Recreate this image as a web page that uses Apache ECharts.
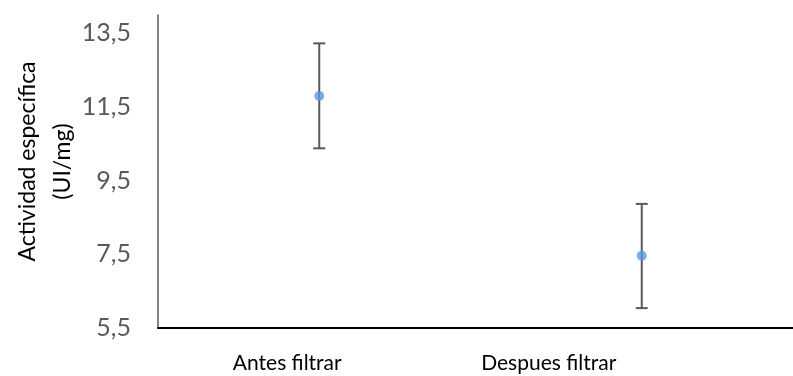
<!DOCTYPE html>
<html><head><meta charset="utf-8">
<script src="https://cdn.jsdelivr.net/npm/echarts@6/dist/echarts.min.js"></script>
<style>html,body{margin:0;padding:0;background:#fff}#c{width:793px;height:376px}</style>
</head><body><div id="c"></div>
<script>
var categories = ['Antes filtrar', 'Despues filtrar'];
var means = [11.8, 7.46];
var errLow = [10.38, 6.04];
var errHigh = [13.23, 8.87];
var yMin = 5.5, yMax = 14, yLabelStep = 2;

var chart = echarts.init(document.getElementById('c'));
var font = 'Lato, "Open Sans", sans-serif';
var labelStyle = {color: '#000', fontSize: 21, fontFamily: font};
chart.setOption({
  animation: false,
  grid: {left: 158, right: -10, top: 15, bottom: 48, outerBoundsMode: 'none', containLabel: false},
  xAxis: {
    type: 'category', data: categories,
    axisLine: {lineStyle: {color: '#000', width: 2}},
    axisTick: {show: false},
    axisLabel: {
      color: '#000', fontSize: 21, fontFamily: font, margin: 25,
      formatter: function (v, i) { return '{l' + i + '|' + v + '}'; },
      rich: {
        l0: Object.assign({padding: [0, 64, 0, 0]}, labelStyle),
        l1: Object.assign({padding: [0, 186, 0, 0]}, labelStyle)
      }
    }
  },
  yAxis: {
    type: 'value', min: yMin, max: yMax, interval: 0.5,
    splitLine: {show: false},
    axisTick: {show: false},
    axisLine: {show: true, lineStyle: {color: '#595959', width: 1.5}},
    axisLabel: {color: '#595959', fontSize: 25, fontFamily: font, margin: 27,
      formatter: function (v) {
        var k = (v - yMin) / yLabelStep;
        if (Math.abs(k - Math.round(k)) > 1e-6) return '';
        return String(v).replace('.', ',');
      }},
    name: 'Actividad específica\n(UI/mg)', nameLocation: 'middle', nameGap: 78,
    nameMoveOverlap: false,
    nameTextStyle: {color: '#000', fontSize: 23, fontFamily: font, lineHeight: 35,
      padding: [0, 0, 0, 20]}
  },
  series: [{
    type: 'custom',
    data: categories.map(function (c, i) { return [i, errLow[i], errHigh[i]]; }),
    renderItem: function (params, api) {
      var lo = api.coord([api.value(0), api.value(1)]);
      var hi = api.coord([api.value(0), api.value(2)]);
      var hw = 6;
      var st = {stroke: '#595959', lineWidth: 2};
      return {type: 'group', children: [
        {type: 'line', shape: {x1: hi[0], y1: hi[1], x2: lo[0], y2: lo[1]}, style: st},
        {type: 'line', shape: {x1: hi[0] - hw, y1: hi[1], x2: hi[0] + hw, y2: hi[1]}, style: st},
        {type: 'line', shape: {x1: lo[0] - hw, y1: lo[1], x2: lo[0] + hw, y2: lo[1]}, style: st}
      ]};
    },
    z: 1
  }, {
    type: 'scatter', data: means, symbolSize: 10,
    itemStyle: {color: '#5B9BD5'}, z: 2
  }]
});
</script></body></html>
